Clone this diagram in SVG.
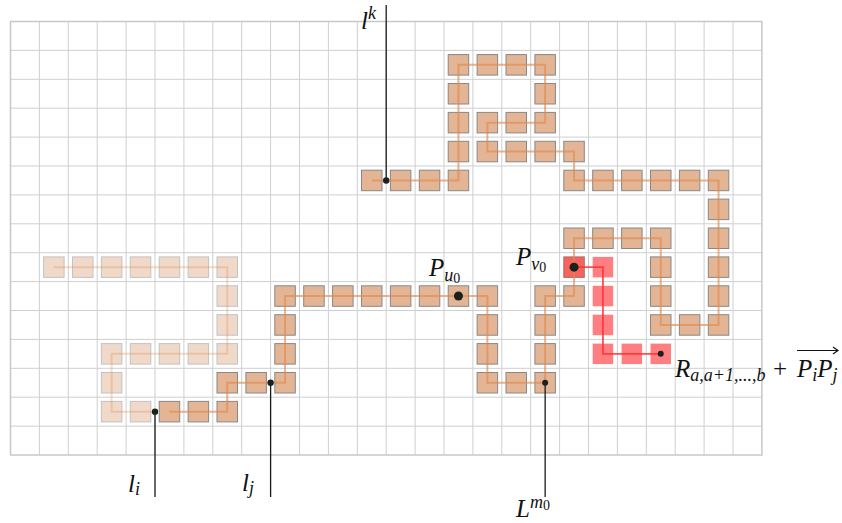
<svg xmlns="http://www.w3.org/2000/svg" xmlns:xlink="http://www.w3.org/1999/xlink" width="842" height="523" viewBox="0 0 842 523">
<style>
.grid{stroke:#cfcfcf;stroke-width:1;fill:none}
.border{stroke:#c8c8c8;stroke-width:1.5;fill:none}
.sq{fill:#e3b594;stroke:#888;stroke-width:1}
.fsq{fill:#e3b594;stroke:#888;stroke-width:1;opacity:0.5}
.rsq{fill:#ff3a40;stroke:none;opacity:0.65}
.path{fill:none;stroke:#e08a50;stroke-width:2;stroke-opacity:0.65}
.fpath{fill:none;stroke:#e08a50;stroke-width:2;stroke-opacity:0.3}
.rpath{fill:none;stroke:#ff3030;stroke-width:1.8;stroke-opacity:0.85}
.lead{stroke:#1a1a1a;stroke-width:1.3;fill:none}
.dot{fill:#1a221e}
.lbl{font-family:"Liberation Serif","DejaVu Serif",serif;font-style:italic;font-size:25px;fill:#111}
.sub{font-size:18px}
.sub2{font-size:14px;font-style:normal}
</style>
<defs>
<rect id="s" width="20.5" height="20.5"/>
</defs>
<g id="grid">
<path class="grid" d="M39.4,21.5V455M68.3,21.5V455M97.2,21.5V455M126.1,21.5V455M155,21.5V455M183.9,21.5V455M212.8,21.5V455M241.7,21.5V455M270.6,21.5V455M299.5,21.5V455M328.4,21.5V455M357.3,21.5V455M386.2,21.5V455M415.1,21.5V455M444,21.5V455M472.9,21.5V455M501.8,21.5V455M530.7,21.5V455M559.6,21.5V455M588.5,21.5V455M617.4,21.5V455M646.3,21.5V455M675.2,21.5V455M704.1,21.5V455M733,21.5V455
M10.5,50.4H761.9M10.5,79.3H761.9M10.5,108.2H761.9M10.5,137.1H761.9M10.5,166H761.9M10.5,194.9H761.9M10.5,223.8H761.9M10.5,252.7H761.9M10.5,281.6H761.9M10.5,310.5H761.9M10.5,339.4H761.9M10.5,368.3H761.9M10.5,397.2H761.9M10.5,426.1H761.9"/>
<rect class="border" x="10.5" y="21.5" width="751.4" height="433.5"/>
</g>
<g id="faded-cells" class="fsq">
<use xlink:href="#s" x="43.6" y="256.9"/><use xlink:href="#s" x="72.5" y="256.9"/><use xlink:href="#s" x="101.4" y="256.9"/><use xlink:href="#s" x="130.3" y="256.9"/><use xlink:href="#s" x="159.2" y="256.9"/><use xlink:href="#s" x="188.1" y="256.9"/><use xlink:href="#s" x="217" y="256.9"/>
<use xlink:href="#s" x="217" y="285.8"/><use xlink:href="#s" x="217" y="314.7"/>
<use xlink:href="#s" x="101.4" y="343.6"/><use xlink:href="#s" x="130.3" y="343.6"/><use xlink:href="#s" x="159.2" y="343.6"/><use xlink:href="#s" x="188.1" y="343.6"/><use xlink:href="#s" x="217" y="343.6"/>
<use xlink:href="#s" x="101.4" y="372.5"/>
<use xlink:href="#s" x="101.4" y="401.4"/><use xlink:href="#s" x="130.3" y="401.4"/>
</g>
<g id="cells" class="sq">
<use xlink:href="#s" x="448.2" y="54.6"/><use xlink:href="#s" x="477.1" y="54.6"/><use xlink:href="#s" x="506" y="54.6"/><use xlink:href="#s" x="534.9" y="54.6"/>
<use xlink:href="#s" x="448.2" y="83.5"/><use xlink:href="#s" x="534.9" y="83.5"/>
<use xlink:href="#s" x="448.2" y="112.4"/><use xlink:href="#s" x="477.1" y="112.4"/><use xlink:href="#s" x="506" y="112.4"/><use xlink:href="#s" x="534.9" y="112.4"/>
<use xlink:href="#s" x="448.2" y="141.3"/><use xlink:href="#s" x="477.1" y="141.3"/><use xlink:href="#s" x="506" y="141.3"/><use xlink:href="#s" x="534.9" y="141.3"/><use xlink:href="#s" x="563.8" y="141.3"/>
<use xlink:href="#s" x="361.5" y="170.2"/><use xlink:href="#s" x="390.4" y="170.2"/><use xlink:href="#s" x="419.3" y="170.2"/><use xlink:href="#s" x="448.2" y="170.2"/>
<use xlink:href="#s" x="563.8" y="170.2"/><use xlink:href="#s" x="592.7" y="170.2"/><use xlink:href="#s" x="621.6" y="170.2"/><use xlink:href="#s" x="650.5" y="170.2"/><use xlink:href="#s" x="679.4" y="170.2"/><use xlink:href="#s" x="708.3" y="170.2"/>
<use xlink:href="#s" x="708.3" y="199.1"/>
<use xlink:href="#s" x="563.8" y="228"/><use xlink:href="#s" x="592.7" y="228"/><use xlink:href="#s" x="621.6" y="228"/><use xlink:href="#s" x="650.5" y="228"/><use xlink:href="#s" x="708.3" y="228"/>
<use xlink:href="#s" x="563.8" y="256.9"/><use xlink:href="#s" x="650.5" y="256.9"/><use xlink:href="#s" x="708.3" y="256.9"/>
<use xlink:href="#s" x="274.8" y="285.8"/><use xlink:href="#s" x="303.7" y="285.8"/><use xlink:href="#s" x="332.6" y="285.8"/><use xlink:href="#s" x="361.5" y="285.8"/><use xlink:href="#s" x="390.4" y="285.8"/><use xlink:href="#s" x="419.3" y="285.8"/><use xlink:href="#s" x="448.2" y="285.8"/><use xlink:href="#s" x="477.1" y="285.8"/>
<use xlink:href="#s" x="534.9" y="285.8"/><use xlink:href="#s" x="563.8" y="285.8"/><use xlink:href="#s" x="650.5" y="285.8"/><use xlink:href="#s" x="708.3" y="285.8"/>
<use xlink:href="#s" x="274.8" y="314.7"/><use xlink:href="#s" x="477.1" y="314.7"/><use xlink:href="#s" x="534.9" y="314.7"/><use xlink:href="#s" x="650.5" y="314.7"/><use xlink:href="#s" x="679.4" y="314.7"/><use xlink:href="#s" x="708.3" y="314.7"/>
<use xlink:href="#s" x="274.8" y="343.6"/><use xlink:href="#s" x="477.1" y="343.6"/><use xlink:href="#s" x="534.9" y="343.6"/>
<use xlink:href="#s" x="217" y="372.5"/><use xlink:href="#s" x="245.9" y="372.5"/><use xlink:href="#s" x="274.8" y="372.5"/><use xlink:href="#s" x="477.1" y="372.5"/><use xlink:href="#s" x="506" y="372.5"/><use xlink:href="#s" x="534.9" y="372.5"/>
<use xlink:href="#s" x="159.2" y="401.4"/><use xlink:href="#s" x="188.1" y="401.4"/><use xlink:href="#s" x="217" y="401.4"/>
</g>
<g id="red-cells" class="rsq">
<use xlink:href="#s" x="563.8" y="256.9"/><use xlink:href="#s" x="592.7" y="256.9"/>
<use xlink:href="#s" x="592.7" y="285.8"/><use xlink:href="#s" x="592.7" y="314.7"/>
<use xlink:href="#s" x="592.7" y="343.6"/><use xlink:href="#s" x="621.6" y="343.6"/><use xlink:href="#s" x="650.5" y="343.6"/>
</g>
<g id="connectors">
<path class="fpath" d="M53.85,267.15H227.25V353.85H111.65V411.65H155"/>
<path class="path" d="M169.45,411.65H227.25V382.75H285.05V296.05H487.35V382.75H545.15V296.05H574.05V238.25H660.75V324.95H718.55V180.45H574.05V151.55H487.35V122.65H545.15V64.85H458.45V180.45H371.75"/>
<path class="rpath" d="M574.05,267.15H602.95V353.85H660.75"/>
<path class="lead" d="M386.2,5V180.45M155,411.65V497M270.6,382.75V497M545.15,382.75V497"/>
</g>
<g id="dots" class="dot">
<circle cx="386.2" cy="180.45" r="3.2"/>
<circle cx="155" cy="411.65" r="3.2"/>
<circle cx="270.6" cy="382.75" r="3.2"/>
<circle cx="545.15" cy="382.75" r="3"/>
<circle cx="458.45" cy="296.05" r="4.5"/>
<circle cx="574.05" cy="267.15" r="4.5"/>
<circle cx="660.75" cy="353.85" r="3"/>
</g>
<g id="labels" class="lbl">
<text x="361" y="29">l<tspan class="sub" dy="-10">k</tspan></text>
<text x="429" y="276">P<tspan class="sub" dy="5">u</tspan><tspan class="sub2" dy="2">0</tspan></text>
<text x="516" y="265">P<tspan class="sub" dy="5">v</tspan><tspan class="sub2" dy="2">0</tspan></text>
<text x="675" y="377">R<tspan class="sub" dy="4">a,a+1,...,b</tspan></text>
<text x="773" y="377" font-style="normal">+</text>
<text x="797" y="377">P<tspan class="sub" dy="4">i</tspan><tspan dy="-4">P</tspan><tspan class="sub" dy="4">j</tspan></text>
<text x="128" y="492">l<tspan class="sub" dy="3">i</tspan></text>
<text x="242" y="491">l<tspan class="sub" dy="3">j</tspan></text>
<text x="516" y="517">L<tspan class="sub" dy="-9">m</tspan><tspan class="sub2" dy="2">0</tspan></text>
<path d="M797,350.5H838M833,347L838,350.5L833,354" fill="none" stroke="#111" stroke-width="1.2"/>
</g>
</svg>
